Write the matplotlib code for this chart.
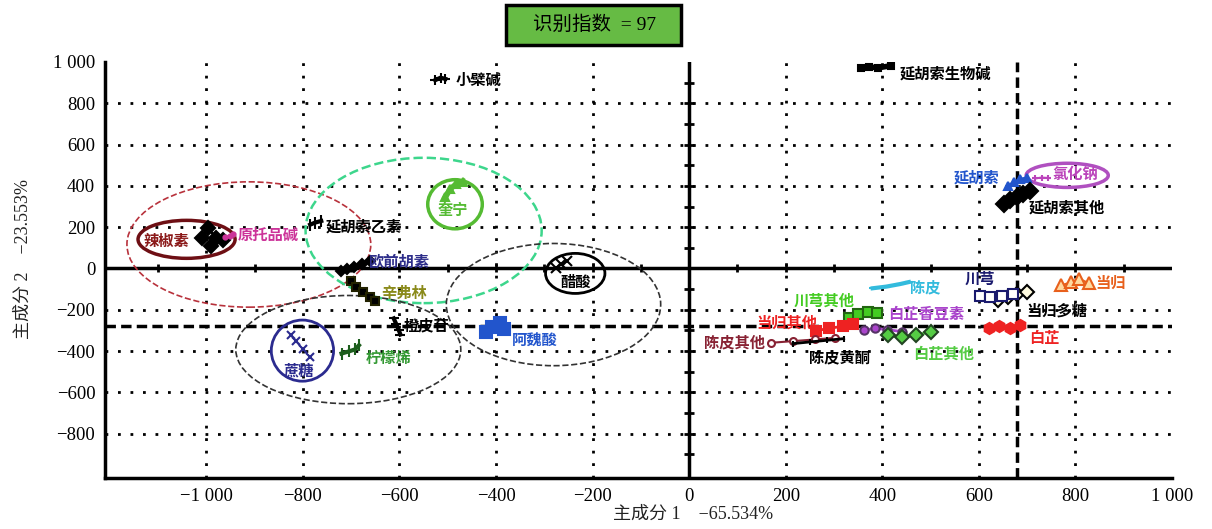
import matplotlib.pyplot as plt
from matplotlib.patches import Ellipse, Rectangle
import numpy as np

plt.rcParams['font.family'] = ['Liberation Serif', 'Noto Sans CJK SC']
plt.rcParams['axes.unicode_minus'] = True

# ---- 数据: 各成分样本在主成分1 / 主成分2 上的得分 ----
capsaicin_x = [-1010, -996, -979, -990, -965]
capsaicin_y = [146, 194, 146, 107, 136]
protopine_x = [-962, -952, -944]
protopine_y = [150, 158, 166]
thp_x = [-785, -775, -762]
thp_y = [212, 222, 230]
quinine_x = [-505, -495, -482, -468]
quinine_y = [345, 385, 410, 420]
imperatorin_x = [-722, -708, -694, -678, -662]
imperatorin_y = [-12, -2, 8, 22, 38]
synephrine_x = [-700, -690, -676, -662, -650]
synephrine_y = [-62, -88, -115, -140, -158]
hesperidin_x = [-612, -607, -602, -598]
hesperidin_y = [-242, -268, -296, -320]
limonene_x = [-720, -705, -692, -684]
limonene_y = [-412, -402, -392, -372]
sucrose_x = [-825, -815, -800, -786]
sucrose_y = [-322, -352, -392, -428]
ferulic_x = [-420, -408, -392, -384]
ferulic_y = [-310, -282, -266, -292]
acetic_x = [-276, -265, -254]
acetic_y = [2, 20, 36]
berberine_x = [-526, -515, -505]
berberine_y = [912, 924, 918]
alkaloid_x = [355, 372, 392, 418]
alkaloid_y = [972, 976, 972, 982]
corydalis_x = [660, 672, 686, 700]
corydalis_y = [398, 418, 432, 440]
nacl_x = [716, 730, 744]
nacl_y = [436, 440, 438]
corydalis_other_x = [652, 664, 678, 692, 706]
corydalis_other_y = [310, 330, 348, 362, 376]
angelica_x = [770, 790, 808, 828]
angelica_y = [-82, -68, -50, -72]
polysaccharide_x = [640, 660, 680, 700]
polysaccharide_y = [-152, -140, -124, -112]
chuanxiong_x = [602, 624, 648, 670]
chuanxiong_y = [-132, -138, -132, -126]
dahurica_x = [620, 642, 664, 686]
dahurica_y = [-290, -280, -288, -276]
peel_x = [380, 408, 436, 455]
peel_y = [-96, -88, -76, -66]
chuanxiong_other_x = [330, 350, 370, 390]
chuanxiong_other_y = [-240, -222, -210, -216]
coumarin_x = [362, 384, 410, 440]
coumarin_y = [-300, -290, -296, -306]
dahurica_other_x = [412, 440, 470, 500]
dahurica_other_y = [-322, -334, -320, -310]
angelica_other_x = [262, 290, 318, 340]
angelica_other_y = [-302, -290, -280, -268]
peel_other_x = [170, 215, 260, 302]
peel_other_y = [-360, -352, -344, -336]
flavone_x = [215, 250, 285, 320]
flavone_y = [-364, -356, -348, -340]

# (x, y, 线色, 标记, 标记大小, 填充色, 边框色, 线宽)
series = [
    (capsaicin_x, capsaicin_y, 'black', 'D', 7, 'black', 'black', 2),
    (protopine_x, protopine_y, '#cc3399', 'o', 3, '#cc3399', '#cc3399', 1.5),
    (thp_x, thp_y, 'black', '|', 9, 'black', 'black', 3),
    (quinine_x, quinine_y, '#55bb33', '^', 6, '#55bb33', '#55bb33', 4),
    (imperatorin_x, imperatorin_y, '#2e2e8a', 'D', 5, 'black', 'black', 2),
    (synephrine_x, synephrine_y, 'black', 's', 6, 'black', '#222200', 2),
    (hesperidin_x, hesperidin_y, 'black', '_', 7, 'black', 'black', 3),
    (limonene_x, limonene_y, '#1d5e1d', '|', 9, 'black', '#1d5e1d', 3),
    (sucrose_x, sucrose_y, '#2b2b8f', 'x', 6, '#2b2b8f', '#2b2b8f', 1),
    (ferulic_x, ferulic_y, '#2255cc', 's', 8, '#2255cc', '#2255cc', 2),
    (acetic_x, acetic_y, 'black', 'x', 7, 'black', 'black', 1.5),
    (berberine_x, berberine_y, 'black', '+', 7, 'black', 'black', 3),
    (alkaloid_x, alkaloid_y, 'black', 's', 4, 'black', 'black', 4),
    (corydalis_x, corydalis_y, '#2255cc', '^', 6, '#2255cc', '#2255cc', 2),
    (nacl_x, nacl_y, '#bb44bb', '+', 5, '#bb44bb', '#bb44bb', 1.5),
    (corydalis_other_x, corydalis_other_y, 'black', 'D', 8, 'black', 'black', 2),
    (angelica_x, angelica_y, '#e8601c', '^', 9, '#ffd9a0', '#e8601c', 1.5),
    (polysaccharide_x, polysaccharide_y, 'black', 'D', 7, '#fffbe0', 'black', 1.5),
    (chuanxiong_x, chuanxiong_y, '#1a1a6e', 's', 7, 'white', '#1a1a6e', 1.5),
    (dahurica_x, dahurica_y, '#ee2222', 'h', 8, '#ee2222', '#ee2222', 1.5),
    (peel_x, peel_y, '#33bbdd', '_', 6, '#33bbdd', '#33bbdd', 3),
    (chuanxiong_other_x, chuanxiong_other_y, '#44cc22', 's', 7, '#44cc22', '#226611', 2),
    (coumarin_x, coumarin_y, '#aa44cc', 'o', 6, '#aa44cc', '#553366', 2),
    (dahurica_other_x, dahurica_other_y, '#55cc44', 'D', 7, '#55cc44', '#224422', 2),
    (angelica_other_x, angelica_other_y, '#ee2222', 's', 7, '#ee2222', '#ee2222', 2),
    (peel_other_x, peel_other_y, '#882233', 'o', 5, 'white', '#882233', 1.5),
    (flavone_x, flavone_y, 'black', '|', 5, 'black', 'black', 2),
]

# 标签: (文字, x, y, 颜色, 对齐)
labels = [
    ('辣椒素', -1082, 131, '#8b1a1a', 'center'),
    ('原托品碱', -936, 162, '#cc3399', 'left'),
    ('延胡索乙素', -752, 204, 'black', 'left'),
    ('奎宁', -490, 282, '#55bb33', 'center'),
    ('欧前胡素', -665, 34, '#2e2e8a', 'left'),
    ('辛弗林', -637, -121, '#8a8a1a', 'left'),
    ('橙皮苷', -591, -277, 'black', 'left'),
    ('柠檬烯', -669, -432, '#339933', 'left'),
    ('蔗糖', -808, -495, '#2b2b8f', 'center'),
    ('阿魏酸', -368, -350, '#2255cc', 'left'),
    ('醋酸', -236, -63, 'black', 'center'),
    ('小檗碱', -483, 913, 'black', 'left'),
    ('延胡索生物碱', 437, 942, 'black', 'left'),
    ('延胡索', 643, 440, '#2255cc', 'right'),
    ('氯化钠', 752, 456, '#bb44bb', 'left'),
    ('延胡索其他', 704, 296, 'black', 'left'),
    ('当归', 842, -68, '#e8601c', 'left'),
    ('当归多糖', 698, -204, 'black', 'left'),
    ('川芎', 571, -52, '#1a1a6e', 'left'),
    ('白芷', 704, -335, '#ee2222', 'left'),
    ('陈皮', 458, -92, '#33bbdd', 'left'),
    ('川芎其他', 216, -155, '#44cc22', 'left'),
    ('白芷香豆素', 413, -223, '#aa44cc', 'left'),
    ('白芷其他', 464, -413, '#55cc44', 'left'),
    ('当归其他', 140, -262, '#ee2222', 'left'),
    ('陈皮其他', 31, -359, '#882233', 'left'),
    ('陈皮黄酮', 248, -432, 'black', 'left'),
]

# 椭圆圈: (中心x, 中心y, 宽, 高, 颜色, 线型, 线宽)
ellipses = [
    (-1041, 141, 201, 184, '#6e0f14', '-', 2.5),
    (-912, 116, 505, 607, '#b8323c', '--', 1.2),
    (-550, 184, 489, 704, '#3dd68c', '--', 1.8),
    (-485, 311, 113, 238, '#55bb33', '-', 2.5),
    (-801, -398, 129, 296, '#2b2b8f', '-', 2),
    (-706, -393, 466, 524, '#333333', '--', 1.2),
    (-281, -175, 444, 592, '#333333', '--', 1.2),
    (-236, -24, 123, 194, 'black', '-', 2),
    (783, 451, 170, 117, '#b050c0', '-', 2.5),
]

fig = plt.figure(figsize=(12.12, 5.29), dpi=100)
ax = fig.add_axes([0.0866, 0.0964, 0.8804, 0.7864])
ax.set_xlim(-1210, 1000)
ax.set_ylim(-1015, 1000)

# 点状网格
for gx in [-1000, -800, -600, -400, -200, 200, 400, 600, 800]:
    ax.axvline(gx, color='black', lw=2, ls=(0, (1, 3.5)), zorder=1)
for gy in [-800, -600, -400, -200, 200, 400, 600, 800]:
    ax.axhline(gy, color='black', lw=2, ls=(0, (1, 3.5)), zorder=1)

# 零线 + 刻度
ax.axhline(0, color='black', lw=2.5, zorder=2)
ax.axvline(0, color='black', lw=2.5, zorder=2)
tx = np.arange(-1100, 1000, 100)
ax.plot(tx, np.zeros_like(tx), ls='none', marker='|', ms=6, mew=2, color='black', zorder=2)
ty = np.arange(-900, 1000, 100)
ax.plot(np.zeros_like(ty), ty, ls='none', marker='_', ms=7, mew=2, color='black', zorder=2)

# 粗虚线
ax.axhline(-280, color='black', lw=2.5, ls=(0, (3, 1.5)), zorder=2)
ax.axvline(680, color='black', lw=2.5, ls=(0, (3, 1.5)), zorder=2)

for cx, cy, w, h, c, ls, lw in ellipses:
    ax.add_patch(Ellipse((cx, cy), w, h, fill=False, edgecolor=c, ls=ls, lw=lw, zorder=3))

for x, y, lc, m, ms, mfc, mec, lw in series:
    ax.plot(x, y, color=lc, lw=lw, marker=m, ms=ms, mfc=mfc, mec=mec, mew=1.5, zorder=4)

for txt, x, y, c, ha in labels:
    ax.text(x, y, txt, color=c, ha=ha, va='center', fontsize=11, fontweight='bold',
            family=['Noto Sans CJK SC'], zorder=5)

for side in ['top', 'right']:
    ax.spines[side].set_visible(False)
for side in ['left', 'bottom']:
    ax.spines[side].set_linewidth(2.5)

ax.set_xticks(np.arange(-1000, 1001, 200))
ax.set_xticklabels(['−1 000', '−800', '−600', '−400', '−200', '0', '200', '400', '600', '800', '1 000'])
ax.set_yticks(np.arange(-800, 1001, 200))
ax.set_yticklabels(['−800', '−600', '−400', '−200', '0', '200', '400', '600', '800', '1 000'])
ax.tick_params(length=0, labelsize=13.5, pad=7)

fig.text(0.572, 0.027, '主成分 1　−65.534%', ha='center', va='center', fontsize=13, color='#222222')
fig.text(0.019, 0.51, '主成分 2　−23.553%', ha='center', va='center', rotation=90, fontsize=13, color='#222222')

# 识别指数 标题框
fig.patches.append(Rectangle((506 / 1212, 1 - 45 / 529), 175 / 1212, 40 / 529, transform=fig.transFigure,
                             facecolor='#66bb44', edgecolor='black', lw=2.5))
fig.text(595 / 1212, 1 - 25 / 529, '识别指数  = 97', ha='center', va='center', fontsize=14)

plt.savefig('out.png', dpi=100)
